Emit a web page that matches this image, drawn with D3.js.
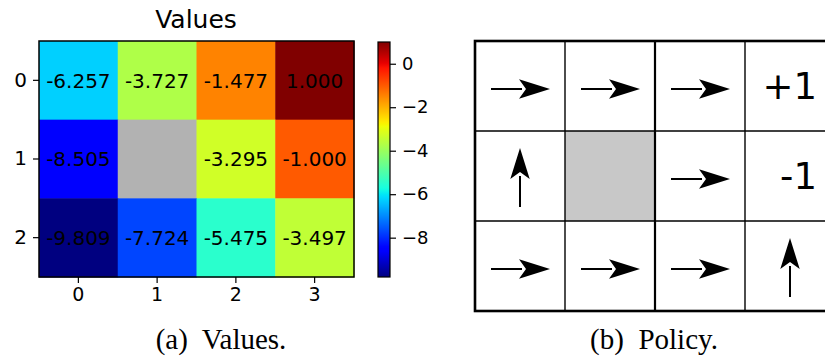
<!DOCTYPE html>
<html lang="en">
<head>
  <meta charset="UTF-8" />
  <title>Values and Policy</title>
  <script src="https://cdn.jsdelivr.net/npm/d3@7"></script>
  <style>
    html, body { margin: 0; padding: 0; background: #fff; overflow: hidden; }
    svg { display: block; }
    text { font-family: "DejaVu Sans", sans-serif; }
    .caption { font-family: "Liberation Serif", "Times New Roman", serif; white-space: pre; }
  </style>
</head>
<body>
<script>
// ----------------------------
// Data
// ----------------------------
const rowIds = [0, 1, 2];
const colIds = [0, 1, 2, 3];
// state values (null = wall)
const values = [
  [-6.257, -3.727, -1.477, 1.000],
  [-8.505, null,   -3.295, -1.000],
  [-9.809, -7.724, -5.475, -3.497]
];
const cbarTicks = [0, -2, -4, -6, -8];
// policy: R = right, U = up, W = wall, other = terminal label
const policy = [
  ["R", "R", "R", "+1"],
  ["U", "W", "R", "-1"],
  ["R", "R", "R", "U"]
];
const captions = ["(a)  Values.", "(b)  Policy."];
const title = "Values";

const width = 825, height = 360;
const svg = d3.select("body").append("svg")
  .attr("width", width)
  .attr("height", height);

// ----------------------------
// jet colormap (matplotlib segment data)
// ----------------------------
function seg(pts, t) {
  for (let i = 1; i < pts.length; i++) {
    if (t <= pts[i][0]) {
      const [x0, y0] = pts[i - 1], [x1, y1] = pts[i];
      return y0 + (y1 - y0) * (t - x0) / (x1 - x0);
    }
  }
  return pts[pts.length - 1][1];
}
const jetR = [[0, 0], [0.35, 0], [0.66, 1], [0.89, 1], [1, 0.5]];
const jetG = [[0, 0], [0.125, 0], [0.375, 1], [0.64, 1], [0.91, 0], [1, 0]];
const jetB = [[0, 0.5], [0.11, 1], [0.34, 1], [0.65, 0], [1, 0]];
function jet(t) {
  t = Math.max(0, Math.min(1, t));
  return d3.rgb(seg(jetR, t) * 255, seg(jetG, t) * 255, seg(jetB, t) * 255).formatHex();
}

const flat = values.flat().filter(v => v !== null);
const vmin = d3.min(flat), vmax = d3.max(flat);
const norm = d3.scaleLinear().domain([vmin, vmax]).range([0, 1]);

// ----------------------------
// Heatmap (a)
// ----------------------------
const hx = d3.scaleBand().domain(colIds).range([39, 354]);
const hy = d3.scaleBand().domain(rowIds).range([41, 277]);

const heat = svg.append("g");
rowIds.forEach(r => {
  colIds.forEach(c => {
    const v = values[r][c];
    heat.append("rect")
      .attr("x", hx(c)).attr("y", hy(r))
      .attr("width", hx.bandwidth() + 0.5).attr("height", hy.bandwidth() + 0.5)
      .attr("fill", v === null ? "#b2b2b2" : jet(norm(v)));
    if (v !== null) {
      heat.append("text")
        .attr("x", hx(c) + hx.bandwidth() / 2)
        .attr("y", hy(r) + hy.bandwidth() / 2)
        .attr("dy", "0.36em")
        .attr("text-anchor", "middle")
        .attr("font-size", 20)
        .attr("fill", "#000")
        .text(v.toFixed(3));
    }
  });
});
heat.append("rect")
  .attr("x", 39).attr("y", 41)
  .attr("width", 315).attr("height", 236)
  .attr("fill", "none").attr("stroke", "#000").attr("stroke-width", 1.5);

// axes
const xAxis = svg.append("g")
  .attr("transform", "translate(0,277)")
  .call(d3.axisBottom(hx).tickSize(6).tickPadding(5));
const yAxis = svg.append("g")
  .attr("transform", "translate(39,0)")
  .call(d3.axisLeft(hy).tickSize(6).tickPadding(6));
[[xAxis, 19], [yAxis, 20]].forEach(([a, fs]) => {
  a.select(".domain").remove();
  a.selectAll("line").attr("stroke", "#000").attr("stroke-width", 1.2);
  a.selectAll("text").attr("font-size", fs).attr("fill", "#000")
    .attr("font-family", "DejaVu Sans, sans-serif");
});

svg.append("text")
  .attr("x", 196).attr("y", 28)
  .attr("text-anchor", "middle")
  .attr("font-size", 25)
  .text(title);

// ----------------------------
// Colorbar
// ----------------------------
const cb = d3.scaleLinear().domain([vmin, vmax]).range([277, 42]);
const grad = svg.append("defs").append("linearGradient")
  .attr("id", "jetgrad")
  .attr("x1", 0).attr("y1", 1).attr("x2", 0).attr("y2", 0);
d3.range(0, 1.0001, 0.01).forEach(t => {
  grad.append("stop").attr("offset", t).attr("stop-color", jet(t));
});
svg.append("rect")
  .attr("x", 378).attr("y", cb(vmax))
  .attr("width", 12).attr("height", cb(vmin) - cb(vmax))
  .attr("fill", "url(#jetgrad)")
  .attr("stroke", "#000").attr("stroke-width", 1.2);
const cbAxis = svg.append("g")
  .attr("transform", "translate(390,0)")
  .call(d3.axisRight(cb).tickValues(cbarTicks).tickFormat(d3.format("d")).tickSize(6).tickPadding(6));
cbAxis.select(".domain").remove();
cbAxis.selectAll("line").attr("stroke", "#000").attr("stroke-width", 1.2);
cbAxis.selectAll("text").attr("font-size", 18).attr("fill", "#000")
  .attr("font-family", "DejaVu Sans, sans-serif");

// ----------------------------
// Policy grid (b)
// ----------------------------
const px = d3.scaleBand().domain(colIds).range([475, 835]);
const py = d3.scaleBand().domain(rowIds).range([41, 311]);
const pol = svg.append("g");

rowIds.forEach(r => {
  colIds.forEach(c => {
    const a = policy[r][c];
    const cx = px(c) + px.bandwidth() / 2;
    const cy = py(r) + py.bandwidth() / 2;
    if (a === "W") {
      pol.append("rect")
        .attr("x", px(c)).attr("y", py(r))
        .attr("width", px.bandwidth()).attr("height", py.bandwidth())
        .attr("fill", "#c8c8c8");
    } else if (a === "R" || a === "U") {
      const g = pol.append("g")
        .attr("transform", `translate(${cx},${cy + (a === "R" ? 3 : 2)}) rotate(${a === "U" ? -90 : 0})`);
      g.append("line")
        .attr("x1", -29).attr("y1", 0).attr("x2", 2).attr("y2", 0)
        .attr("stroke", "#000").attr("stroke-width", 2);
      g.append("path")
        .attr("d", "M30,0 L-1,-9.7 L6,0 L-1,9.7 Z")
        .attr("fill", "#000");
    } else {
      pol.append("text")
        .attr("x", px(c) + px.bandwidth() - 18)
        .attr("y", cy + 13)
        .attr("text-anchor", "end")
        .attr("font-size", 37)
        .text(a);
    }
  });
});

// grid lines
colIds.slice(1).forEach(c => {
  pol.append("line")
    .attr("x1", px(c)).attr("x2", px(c))
    .attr("y1", 41).attr("y2", 311)
    .attr("stroke", "#000").attr("stroke-width", c === 2 ? 2.2 : 1.4);
});
rowIds.slice(1).forEach(r => {
  pol.append("line")
    .attr("x1", 475).attr("x2", 835)
    .attr("y1", py(r)).attr("y2", py(r))
    .attr("stroke", "#000").attr("stroke-width", 1.4);
});
pol.append("rect")
  .attr("x", 475).attr("y", 41)
  .attr("width", 360).attr("height", 270)
  .attr("fill", "none").attr("stroke", "#000").attr("stroke-width", 2.6);

// ----------------------------
// Captions
// ----------------------------
svg.selectAll("text.caption")
  .data(captions)
  .join("text")
  .attr("class", "caption")
  .attr("x", (d, i) => i === 0 ? 221 : 654)
  .attr("y", 349)
  .attr("text-anchor", "middle")
  .attr("font-size", 29)
  .text(d => d);
</script>
</body>
</html>
